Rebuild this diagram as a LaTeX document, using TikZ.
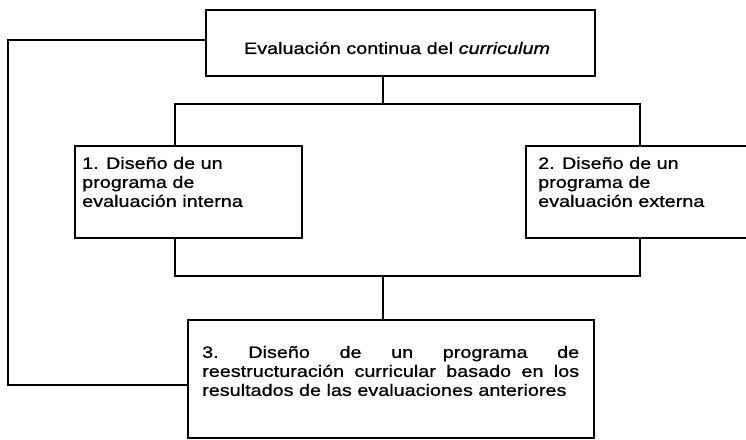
\documentclass[tikz,border=0pt]{standalone}
\usepackage{fontspec}
\setmainfont[FakeStretch=1.2, FakeBold=0.9]{Liberation Sans}
\usepackage{tikz}
\usetikzlibrary{positioning,calc}

\begin{document}
\begin{tikzpicture}[x=1pt, y=-1pt,
  caja/.style={draw, line width=1.8pt, inner sep=0pt, anchor=north west},
  texto/.style={inner sep=0pt, font=\fontsize{16.5}{19}\selectfont, align=left},
  linea/.style={line width=1.6pt},
]
\clip (0,0) rectangle (746,439);

% boxes
\node[caja, minimum width=389pt, minimum height=66pt]  (eval) at (205,9)   {};
\node[caja, minimum width=227pt, minimum height=92pt]  (dis1) at (74,145)  {};
\node[caja, minimum width=240pt, minimum height=92pt]  (dis2) at (525,145) {};
\node[caja, minimum width=406pt, minimum height=118pt] (rees) at (187,319) {};

% texts
\node[texto] (teval) at (397,48) {Evaluación continua del \textit{curriculum}};
\node[texto, anchor=west] (t1) at (82,182) {1. Diseño de un\\programa de\\evaluación interna};
\node[texto, anchor=west] (t2) at (538,182) {2. Diseño de un\\programa de\\evaluación externa};
\node[texto, anchor=west, text width=377pt, align=justify] (t3) at (202,371)
  {\hyphenpenalty=10000 3.\ Diseño de un programa de\linebreak
   reestructuración curricular basado en los\linebreak
   resultados de las evaluaciones anteriores};

% junctions
\coordinate (j1) at (383,104);
\coordinate (a1) at (175,104);
\coordinate (a2) at (640,104);
\coordinate (j2) at (383,276);
\coordinate (b1) at (175,276);
\coordinate (b2) at (640,276);
\coordinate (r1) at (8,40);
\coordinate (r2) at (8,385);

% evaluation splits into the two programmes
\draw[linea] (eval.south -| j1) -- (j1);
\draw[linea] (dis1.north -| a1) -- (a1) -- (a2) -- (dis2.north -| a2);

% both programmes feed the restructuring
\draw[linea] (dis1.south -| b1) -- (b1) -- (b2) -- (dis2.south -| b2);
\draw[linea] (j2) -- (rees.north -| j2);

% loop back
\draw[linea] (eval.west |- r1) -- (r1) -- (r2) -- (rees.west |- r2);
\end{tikzpicture}
\end{document}
